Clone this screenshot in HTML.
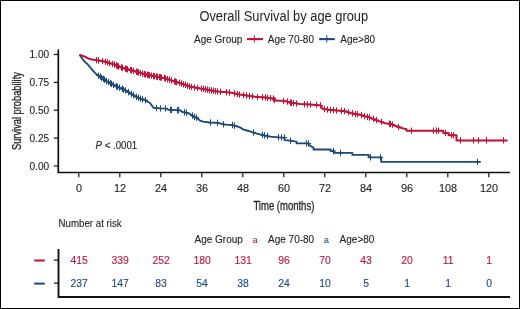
<!DOCTYPE html>
<html><head><meta charset="utf-8"><style>
html,body{margin:0;padding:0;background:#fff;}
svg{display:block;font-family:"Liberation Sans",sans-serif;will-change:transform;}
</style></head><body>
<svg width="520" height="309" viewBox="0 0 520 309">
<rect x="0.5" y="0.5" width="519" height="308" fill="#fff" stroke="#000" stroke-width="1"/>
<text transform="translate(283.80,20.50) scale(0.92,1)" font-size="14" text-anchor="middle" fill="#222">Overall Survival by age group</text>
<text transform="translate(194.00,42.50)" font-size="10" fill="#222" stroke="#222" stroke-width="0.1">Age Group</text>
<path d="M247,39.1H263" stroke="#c21238" stroke-width="2.1"/><path d="M254.4,35.2V42.5" stroke="#c21238" stroke-width="1"/>
<text transform="translate(267.80,42.50)" font-size="10" fill="#222" stroke="#222" stroke-width="0.1">Age 70-80</text>
<path d="M319.2,39.1H334.8" stroke="#1d4878" stroke-width="2.1"/><path d="M326.8,35.2V42.5" stroke="#1d4878" stroke-width="1"/>
<text transform="translate(340.30,42.50)" font-size="10" fill="#222" stroke="#222" stroke-width="0.1">Age&gt;80</text>
<path d="M58.3,49.5V172.5H510" fill="none" stroke="#111" stroke-width="1.7"/>
<path d="M53.8,54.5H58.3" stroke="#111" stroke-width="1.2"/>
<text transform="translate(49.10,58.00) scale(0.99,1)" font-size="10.2" text-anchor="end" fill="#222" stroke="#222" stroke-width="0.1">1.00</text>
<path d="M53.8,82.4H58.3" stroke="#111" stroke-width="1.2"/>
<text transform="translate(49.10,85.88) scale(0.99,1)" font-size="10.2" text-anchor="end" fill="#222" stroke="#222" stroke-width="0.1">0.75</text>
<path d="M53.8,110.2H58.3" stroke="#111" stroke-width="1.2"/>
<text transform="translate(49.10,113.75) scale(0.99,1)" font-size="10.2" text-anchor="end" fill="#222" stroke="#222" stroke-width="0.1">0.50</text>
<path d="M53.8,138.1H58.3" stroke="#111" stroke-width="1.2"/>
<text transform="translate(49.10,141.62) scale(0.99,1)" font-size="10.2" text-anchor="end" fill="#222" stroke="#222" stroke-width="0.1">0.25</text>
<path d="M53.8,166.0H58.3" stroke="#111" stroke-width="1.2"/>
<text transform="translate(49.10,169.50) scale(0.99,1)" font-size="10.2" text-anchor="end" fill="#222" stroke="#222" stroke-width="0.1">0.00</text>
<path d="M78.8,172.5V177.2" stroke="#111" stroke-width="1.2"/>
<text transform="translate(79.00,191.90) scale(1.09,1)" font-size="10" text-anchor="middle" fill="#222" stroke="#222" stroke-width="0.1">0</text>
<path d="M119.8,172.5V177.2" stroke="#111" stroke-width="1.2"/>
<text transform="translate(120.00,191.90) scale(1.09,1)" font-size="10" text-anchor="middle" fill="#222" stroke="#222" stroke-width="0.1">12</text>
<path d="M160.8,172.5V177.2" stroke="#111" stroke-width="1.2"/>
<text transform="translate(161.00,191.90) scale(1.09,1)" font-size="10" text-anchor="middle" fill="#222" stroke="#222" stroke-width="0.1">24</text>
<path d="M201.8,172.5V177.2" stroke="#111" stroke-width="1.2"/>
<text transform="translate(202.00,191.90) scale(1.09,1)" font-size="10" text-anchor="middle" fill="#222" stroke="#222" stroke-width="0.1">36</text>
<path d="M242.8,172.5V177.2" stroke="#111" stroke-width="1.2"/>
<text transform="translate(243.00,191.90) scale(1.09,1)" font-size="10" text-anchor="middle" fill="#222" stroke="#222" stroke-width="0.1">48</text>
<path d="M283.8,172.5V177.2" stroke="#111" stroke-width="1.2"/>
<text transform="translate(284.00,191.90) scale(1.09,1)" font-size="10" text-anchor="middle" fill="#222" stroke="#222" stroke-width="0.1">60</text>
<path d="M324.8,172.5V177.2" stroke="#111" stroke-width="1.2"/>
<text transform="translate(325.00,191.90) scale(1.09,1)" font-size="10" text-anchor="middle" fill="#222" stroke="#222" stroke-width="0.1">72</text>
<path d="M365.8,172.5V177.2" stroke="#111" stroke-width="1.2"/>
<text transform="translate(366.00,191.90) scale(1.09,1)" font-size="10" text-anchor="middle" fill="#222" stroke="#222" stroke-width="0.1">84</text>
<path d="M406.8,172.5V177.2" stroke="#111" stroke-width="1.2"/>
<text transform="translate(407.00,191.90) scale(1.09,1)" font-size="10" text-anchor="middle" fill="#222" stroke="#222" stroke-width="0.1">96</text>
<path d="M447.8,172.5V177.2" stroke="#111" stroke-width="1.2"/>
<text transform="translate(448.00,191.90) scale(1.09,1)" font-size="10" text-anchor="middle" fill="#222" stroke="#222" stroke-width="0.1">108</text>
<path d="M488.8,172.5V177.2" stroke="#111" stroke-width="1.2"/>
<text transform="translate(489.00,191.90) scale(1.09,1)" font-size="10" text-anchor="middle" fill="#222" stroke="#222" stroke-width="0.1">120</text>
<text transform="translate(20.5,111.05) rotate(-90) scale(0.774,1)" font-size="12" text-anchor="middle" fill="#222" stroke="#222" stroke-width="0.3">Survival probability</text>
<text transform="translate(283.85,209.90) scale(0.7,1)" font-size="13.6" text-anchor="middle" fill="#222" stroke="#222" stroke-width="0.3">Time (months)</text>
<text transform="translate(95.60,148.60) scale(0.965,1.0)" font-size="10" fill="#222" stroke="#222" stroke-width="0.12"><tspan font-style="italic">P</tspan> &lt; .0001</text>
<path d="M79.5,54.8 L83.8,60.8 L87.7,64.4 L91.5,69.0 L95.0,72.8 L97.8,75.5 L100.0,76.6 L104.6,80.2 L108.0,82.0 L114.3,85.5 L124.0,89.8 L130.0,93.3 L135.0,96.3 L140.0,98.6 L145.0,100.1 L150.0,103.0 L153.5,107.8 L160.0,108.4 L167.0,108.6 L168.0,109.7 L180.0,110.3 L182.0,111.8 L185.0,112.4 L190.0,113.9 L193.0,116.5 L196.0,117.6 L198.0,118.8 L200.0,120.6 L203.0,121.7 L210.0,122.5 L218.0,122.9 L225.0,124.6 L232.0,125.1 L237.0,126.3 L240.0,127.4 L243.0,129.3 L247.0,130.5 L250.0,131.3 L253.0,132.5 L257.0,133.6 L262.0,134.8 L265.0,135.6 L270.0,136.6 L278.0,137.3 L284.5,137.6 L284.5,140.1 L290.0,140.6 L295.0,141.4 L296.5,141.6 L296.5,143.3 L306.0,143.4 L308.0,143.5 L310.0,145.7 L313.5,147.6 L313.5,149.5 L330.6,149.5 L330.6,151.0 L334.0,151.0 L334.0,152.9 L352.4,152.9 L352.4,154.9 L368.6,154.9 L368.6,157.3 L381.3,157.3 L381.3,161.9 L480.8,161.9" fill="none" stroke="#1d4878" stroke-width="1.85" stroke-linejoin="round"/>
<path d="M98.5,72.4V78.8M95.9,75.6H101.1M100.5,73.4V79.8M97.9,76.6H103.1M101.5,74.6V81.0M98.9,77.8H104.1M103.5,75.7V82.1M100.9,78.9H106.1M104.5,76.5V82.9M101.9,79.7H107.1M106.5,78.0V84.4M103.9,81.2H109.1M108.5,78.8V85.2M105.9,82.0H111.1M110.5,79.9V86.3M107.9,83.1H113.1M111.5,80.7V87.1M108.9,83.9H114.1M113.5,81.6V88.0M110.9,84.8H116.1M116.5,83.1V89.5M113.9,86.3H119.1M117.5,83.7V90.1M114.9,86.9H120.1M119.5,84.4V90.8M116.9,87.6H122.1M122.5,85.7V92.1M119.9,88.9H125.1M123.5,86.4V92.8M120.9,89.6H126.1M125.5,87.2V93.6M122.9,90.4H128.1M128.5,88.9V95.3M125.9,92.1H131.1M131.5,90.7V97.1M128.9,93.9H134.1M133.5,91.9V98.3M130.9,95.1H136.1M136.5,93.6V100.0M133.9,96.8H139.1M138.5,94.5V100.9M135.9,97.7H141.1M140.5,95.4V101.8M137.9,98.6H143.1M142.5,96.0V102.4M139.9,99.2H145.1M145.5,96.9V103.3M142.9,100.1H148.1M156.5,104.9V111.3M153.9,108.1H159.1M160.5,105.2V111.6M157.9,108.4H163.1M165.5,105.3V111.7M162.9,108.5H168.1M170.5,106.6V113.0M167.9,109.8H173.1M171.5,106.7V113.1M168.9,109.9H174.1M177.5,107.0V113.4M174.9,110.2H180.1M178.5,107.0V113.4M175.9,110.2H181.1M184.5,109.1V115.5M181.9,112.3H187.1M186.5,109.5V115.9M183.9,112.7H189.1M192.5,112.4V118.8M189.9,115.6H195.1M194.5,113.7V120.1M191.9,116.9H197.1M196.5,114.4V120.8M193.9,117.6H199.1M210.5,119.3V125.7M207.9,122.5H213.1M217.5,119.7V126.1M214.9,122.9H220.1M223.5,121.0V127.4M220.9,124.2H226.1M232.5,121.9V128.3M229.9,125.1H235.1M234.5,122.5V128.9M231.9,125.7H237.1M253.5,129.3V135.7M250.9,132.5H256.1M262.5,131.7V138.1M259.9,134.9H265.1M264.5,132.1V138.5M261.9,135.3H267.1M267.5,132.8V139.2M264.9,136.0H270.1M278.5,134.1V140.5M275.9,137.3H281.1M281.5,134.3V140.7M278.9,137.5H284.1M284.5,134.4V140.8M281.9,137.6H287.1M290.5,137.5V143.9M287.9,140.7H293.1M306.5,140.2V146.6M303.9,143.4H309.1M308.5,140.3V146.7M305.9,143.5H311.1M333.5,147.8V154.2M330.9,151.0H336.1M340.5,149.7V156.1M337.9,152.9H343.1M370.5,154.1V160.5M367.9,157.3H373.1M380.5,154.1V160.5M377.9,157.3H383.1M477.5,158.7V165.1M474.9,161.9H480.1" stroke="#1d4878" stroke-width="1"/>
<path d="M79.5,54.8 L83.8,56.2 L87.7,58.2 L91.0,59.2 L95.0,59.9 L100.0,60.7 L105.0,61.7 L110.0,63.2 L115.0,64.6 L120.0,67.0 L125.0,68.6 L130.0,70.0 L135.0,71.2 L140.0,72.9 L145.0,74.3 L155.0,76.3 L165.0,78.2 L175.0,81.6 L185.0,84.7 L190.0,86.6 L195.0,87.6 L200.0,88.4 L205.0,89.3 L210.0,90.2 L216.0,91.3 L220.0,91.7 L230.0,92.6 L240.0,94.5 L250.0,96.1 L255.0,96.8 L265.0,97.4 L273.0,98.6 L275.0,100.5 L285.0,101.0 L290.0,102.6 L300.0,104.0 L310.0,104.6 L321.0,105.4 L322.5,108.8 L330.0,109.9 L340.0,110.8 L345.0,111.2 L350.0,112.9 L355.0,114.0 L360.0,114.8 L365.0,116.4 L370.0,117.6 L375.0,119.8 L380.0,121.4 L385.0,123.2 L390.0,123.8 L395.0,125.7 L400.0,127.5 L404.0,128.6 L406.5,129.3 L406.5,130.7 L443.3,130.7 L443.3,133.0 L448.6,133.0 L448.6,135.3 L456.5,135.3 L456.5,140.4 L507.6,140.4" fill="none" stroke="#c21238" stroke-width="2" stroke-linejoin="round"/>
<path d="M96.5,57.0V63.4M93.9,60.2H99.1M98.5,57.3V63.7M95.9,60.5H101.1M102.5,57.9V64.3M99.9,61.1H105.1M105.5,58.5V64.9M102.9,61.7H108.1M107.5,59.2V65.6M104.9,62.4H110.1M109.5,60.0V66.4M106.9,63.2H112.1M112.5,60.7V67.1M109.9,63.9H115.1M114.5,61.2V67.6M111.9,64.4H117.1M116.5,62.2V68.6M113.9,65.4H119.1M117.5,62.8V69.2M114.9,66.0H120.1M118.5,63.3V69.7M115.9,66.5H121.1M121.5,64.2V70.6M118.9,67.4H124.1M122.5,64.7V71.1M119.9,67.9H125.1M125.5,65.4V71.8M122.9,68.6H128.1M126.5,65.7V72.1M123.9,68.9H129.1M127.5,66.2V72.6M124.9,69.4H130.1M130.5,66.8V73.2M127.9,70.0H133.1M131.5,67.1V73.5M128.9,70.3H134.1M133.5,67.7V74.1M130.9,70.9H136.1M136.5,68.5V74.9M133.9,71.7H139.1M137.5,68.8V75.2M134.9,72.0H140.1M138.5,69.2V75.6M135.9,72.4H141.1M140.5,69.8V76.2M137.9,73.0H143.1M142.5,70.5V76.9M139.9,73.7H145.1M144.5,70.9V77.3M141.9,74.1H147.1M145.5,71.3V77.7M142.9,74.5H148.1M147.5,71.6V78.0M144.9,74.8H150.1M148.5,71.8V78.2M145.9,75.0H151.1M149.5,72.1V78.5M146.9,75.3H152.1M151.5,72.4V78.8M148.9,75.6H154.1M153.5,72.8V79.2M150.9,76.0H156.1M154.5,73.0V79.4M151.9,76.2H157.1M156.5,73.3V79.7M153.9,76.5H159.1M157.5,73.6V80.0M154.9,76.8H160.1M159.5,73.9V80.3M156.9,77.1H162.1M160.5,74.2V80.6M157.9,77.4H163.1M161.5,74.4V80.8M158.9,77.6H164.1M164.5,74.8V81.2M161.9,78.0H167.1M165.5,75.3V81.7M162.9,78.5H168.1M167.5,76.0V82.4M164.9,79.2H170.1M169.5,76.4V82.8M166.9,79.6H172.1M171.5,77.3V83.7M168.9,80.5H174.1M174.5,78.1V84.5M171.9,81.3H177.1M175.5,78.5V84.9M172.9,81.7H178.1M176.5,79.0V85.4M173.9,82.2H179.1M179.5,79.7V86.1M176.9,82.9H182.1M181.5,80.3V86.7M178.9,83.5H184.1M183.5,81.1V87.5M180.9,84.3H186.1M185.5,81.6V88.0M182.9,84.8H188.1M187.5,82.5V88.9M184.9,85.7H190.1M189.5,83.3V89.7M186.9,86.5H192.1M191.5,83.7V90.1M188.9,86.9H194.1M194.5,84.2V90.6M191.9,87.4H197.1M197.5,84.8V91.2M194.9,88.0H200.1M201.5,85.4V91.8M198.9,88.6H204.1M203.5,85.7V92.1M200.9,88.9H206.1M205.5,86.1V92.5M202.9,89.3H208.1M207.5,86.5V92.9M204.9,89.7H210.1M209.5,86.9V93.3M206.9,90.1H212.1M211.5,87.3V93.7M208.9,90.5H214.1M213.5,87.6V94.0M210.9,90.8H216.1M215.5,88.0V94.4M212.9,91.2H218.1M217.5,88.2V94.7M214.9,91.5H220.1M220.5,88.5V94.9M217.9,91.7H223.1M226.5,89.1V95.5M223.9,92.3H229.1M229.5,89.3V95.7M226.9,92.5H232.1M234.5,90.2V96.6M231.9,93.4H237.1M237.5,90.8V97.2M234.9,94.0H240.1M239.5,91.3V97.7M236.9,94.5H242.1M243.5,91.9V98.3M240.9,95.1H246.1M246.5,92.4V98.8M243.9,95.6H249.1M249.5,92.8V99.2M246.9,96.0H252.1M252.5,93.2V99.6M249.9,96.4H255.1M257.5,93.8V100.2M254.9,97.0H260.1M262.5,94.0V100.5M259.9,97.2H265.1M265.5,94.2V100.6M262.9,97.4H268.1M267.5,94.6V101.0M264.9,97.8H270.1M270.5,95.0V101.4M267.9,98.2H273.1M273.5,95.4V101.8M270.9,98.6H276.1M274.5,96.8V103.2M271.9,100.0H277.1M283.5,97.7V104.1M280.9,100.9H286.1M287.5,98.4V104.8M284.9,101.6H290.1M290.5,99.4V105.8M287.9,102.6H293.1M291.5,99.6V106.0M288.9,102.8H294.1M293.5,99.9V106.3M290.9,103.1H296.1M296.5,100.3V106.7M293.9,103.5H299.1M304.5,101.0V107.4M301.9,104.2H307.1M307.5,101.2V107.6M304.9,104.4H310.1M310.5,101.4V107.8M307.9,104.6H313.1M316.5,101.8V108.2M313.9,105.0H319.1M320.5,102.2V108.6M317.9,105.4H323.1M324.5,105.8V112.2M321.9,109.0H327.1M327.5,106.3V112.7M324.9,109.5H330.1M330.5,106.7V113.1M327.9,109.9H333.1M333.5,107.0V113.4M330.9,110.2H336.1M336.5,107.3V113.7M333.9,110.5H339.1M341.5,107.7V114.1M338.9,110.9H344.1M344.5,107.9V114.3M341.9,111.1H347.1M348.5,109.0V115.4M345.9,112.2H351.1M352.5,110.1V116.5M349.9,113.3H355.1M355.5,110.8V117.2M352.9,114.0H358.1M357.5,111.1V117.5M354.9,114.3H360.1M361.5,111.9V118.3M358.9,115.1H364.1M364.5,112.9V119.3M361.9,116.1H367.1M367.5,113.7V120.1M364.9,116.9H370.1M369.5,114.2V120.6M366.9,117.4H372.1M373.5,115.7V122.1M370.9,118.9H376.1M376.5,116.9V123.3M373.9,120.1H379.1M381.5,118.6V125.0M378.9,121.8H384.1M389.5,120.5V126.9M386.9,123.7H392.1M390.5,120.8V127.2M387.9,124.0H393.1M392.5,121.4V127.8M389.9,124.6H395.1M398.5,123.8V130.2M395.9,127.0H401.1M411.5,127.5V133.9M408.9,130.7H414.1M433.5,127.5V133.9M430.9,130.7H436.1M436.5,127.5V133.9M433.9,130.7H439.1M438.5,127.5V133.9M435.9,130.7H441.1M445.5,129.8V136.2M442.9,133.0H448.1M451.5,132.1V138.5M448.9,135.3H454.1M453.5,132.1V138.5M450.9,135.3H456.1M460.5,137.2V143.6M457.9,140.4H463.1M473.5,137.2V143.6M470.9,140.4H476.1M478.5,137.2V143.6M475.9,140.4H481.1M486.5,137.2V143.6M483.9,140.4H489.1M503.5,137.2V143.6M500.9,140.4H506.1" stroke="#c21238" stroke-width="1"/>
<text transform="translate(58.60,226.60) scale(0.97,1.0)" font-size="10" fill="#222" stroke="#222" stroke-width="0.1">Number at risk</text>
<text transform="translate(194.50,243.00)" font-size="10" fill="#222" stroke="#222" stroke-width="0.1">Age Group</text>
<text transform="translate(255.10,243.00) scale(0.95,1)" font-size="9.2" text-anchor="middle" fill="#c21238" stroke="#c21238" stroke-width="0.1">a</text>
<text transform="translate(268.00,243.00)" font-size="10" fill="#222" stroke="#222" stroke-width="0.1">Age 70-80</text>
<text transform="translate(326.50,243.00) scale(0.95,1)" font-size="9.2" text-anchor="middle" fill="#1d4878" stroke="#1d4878" stroke-width="0.1">a</text>
<text transform="translate(339.60,243.00)" font-size="10" fill="#222" stroke="#222" stroke-width="0.1">Age&gt;80</text>
<path d="M58.5,249V297H510" fill="none" stroke="#111" stroke-width="1.9"/>
<path d="M54,260.2H58.5M54,283.2H58.5" stroke="#111" stroke-width="1.2"/>
<path d="M34.2,260.5H44.8" stroke="#c21238" stroke-width="2"/>
<path d="M34.2,283.6H44.8" stroke="#1d4878" stroke-width="2"/>
<text transform="translate(79.10,263.80) scale(1.04,1)" font-size="10" text-anchor="middle" fill="#c21238" stroke="#c21238" stroke-width="0.1">415</text>
<text transform="translate(79.10,286.80) scale(1.04,1)" font-size="10" text-anchor="middle" fill="#1d4878" stroke="#1d4878" stroke-width="0.1">237</text>
<text transform="translate(120.10,263.80) scale(1.04,1)" font-size="10" text-anchor="middle" fill="#c21238" stroke="#c21238" stroke-width="0.1">339</text>
<text transform="translate(120.10,286.80) scale(1.04,1)" font-size="10" text-anchor="middle" fill="#1d4878" stroke="#1d4878" stroke-width="0.1">147</text>
<text transform="translate(161.10,263.80) scale(1.04,1)" font-size="10" text-anchor="middle" fill="#c21238" stroke="#c21238" stroke-width="0.1">252</text>
<text transform="translate(161.10,286.80) scale(1.04,1)" font-size="10" text-anchor="middle" fill="#1d4878" stroke="#1d4878" stroke-width="0.1">83</text>
<text transform="translate(202.10,263.80) scale(1.04,1)" font-size="10" text-anchor="middle" fill="#c21238" stroke="#c21238" stroke-width="0.1">180</text>
<text transform="translate(202.10,286.80) scale(1.04,1)" font-size="10" text-anchor="middle" fill="#1d4878" stroke="#1d4878" stroke-width="0.1">54</text>
<text transform="translate(243.10,263.80) scale(1.04,1)" font-size="10" text-anchor="middle" fill="#c21238" stroke="#c21238" stroke-width="0.1">131</text>
<text transform="translate(243.10,286.80) scale(1.04,1)" font-size="10" text-anchor="middle" fill="#1d4878" stroke="#1d4878" stroke-width="0.1">38</text>
<text transform="translate(284.10,263.80) scale(1.04,1)" font-size="10" text-anchor="middle" fill="#c21238" stroke="#c21238" stroke-width="0.1">96</text>
<text transform="translate(284.10,286.80) scale(1.04,1)" font-size="10" text-anchor="middle" fill="#1d4878" stroke="#1d4878" stroke-width="0.1">24</text>
<text transform="translate(325.10,263.80) scale(1.04,1)" font-size="10" text-anchor="middle" fill="#c21238" stroke="#c21238" stroke-width="0.1">70</text>
<text transform="translate(325.10,286.80) scale(1.04,1)" font-size="10" text-anchor="middle" fill="#1d4878" stroke="#1d4878" stroke-width="0.1">10</text>
<text transform="translate(366.10,263.80) scale(1.04,1)" font-size="10" text-anchor="middle" fill="#c21238" stroke="#c21238" stroke-width="0.1">43</text>
<text transform="translate(366.10,286.80) scale(1.04,1)" font-size="10" text-anchor="middle" fill="#1d4878" stroke="#1d4878" stroke-width="0.1">5</text>
<text transform="translate(407.10,263.80) scale(1.04,1)" font-size="10" text-anchor="middle" fill="#c21238" stroke="#c21238" stroke-width="0.1">20</text>
<text transform="translate(407.10,286.80) scale(1.04,1)" font-size="10" text-anchor="middle" fill="#1d4878" stroke="#1d4878" stroke-width="0.1">1</text>
<text transform="translate(448.10,263.80) scale(1.04,1)" font-size="10" text-anchor="middle" fill="#c21238" stroke="#c21238" stroke-width="0.1">11</text>
<text transform="translate(448.10,286.80) scale(1.04,1)" font-size="10" text-anchor="middle" fill="#1d4878" stroke="#1d4878" stroke-width="0.1">1</text>
<text transform="translate(489.10,263.80) scale(1.04,1)" font-size="10" text-anchor="middle" fill="#c21238" stroke="#c21238" stroke-width="0.1">1</text>
<text transform="translate(489.10,286.80) scale(1.04,1)" font-size="10" text-anchor="middle" fill="#1d4878" stroke="#1d4878" stroke-width="0.1">0</text>
</svg>
</body></html>
